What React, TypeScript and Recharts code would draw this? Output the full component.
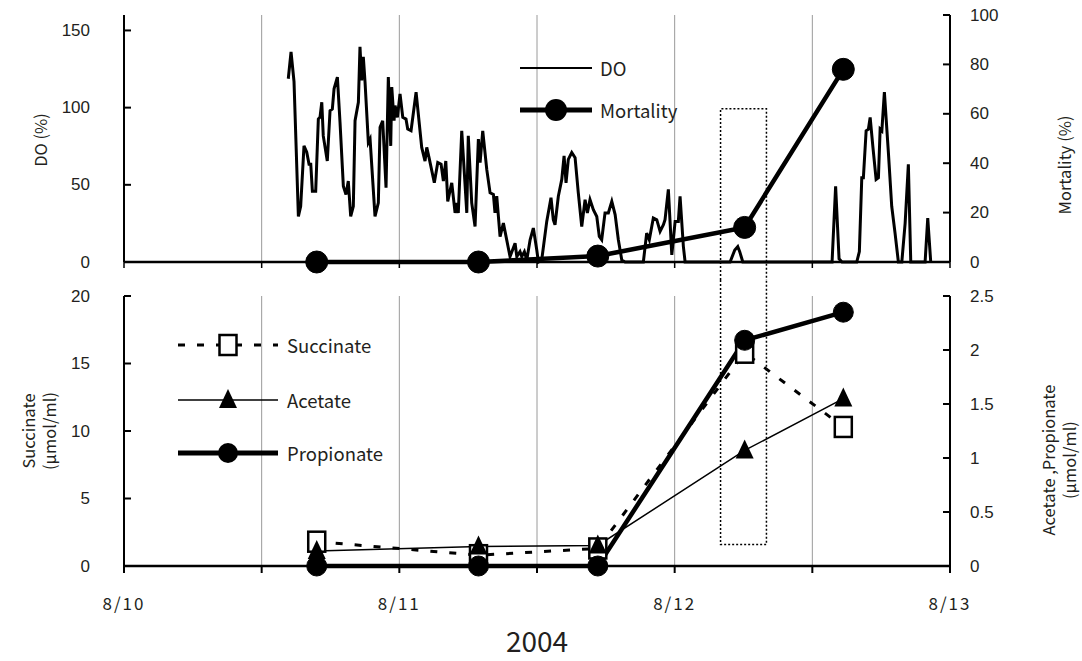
import { CartesianGrid, Label, Legend, Line, LineChart, ReferenceArea, XAxis, YAxis } from 'recharts';

// x values are hours counted from 8/10 0:00
const HOUR_TICKS = [0, 12, 24, 36, 48, 60, 72];
const DAY_LABELS: Record<number, string> = { 0: '8/10', 24: '8/11', 48: '8/12', 72: '8/13' };

const DO_TICKS = [0, 50, 100, 150];
const MORTALITY_TICKS = [0, 20, 40, 60, 80, 100];
const SUCCINATE_TICKS = [0, 5, 10, 15, 20];
const ACID_TICKS = [0, 0.5, 1, 1.5, 2, 2.5];

// [hour, DO %]
const DO_READINGS: [number, number][] = [
  [14.32, 118.7], [14.56, 136.1], [14.82, 116.8], [15.2, 29.5], [15.4, 36.1],
  [15.69, 75.2], [15.93, 71.1], [16.13, 63.3], [16.28, 63.3], [16.42, 45.9],
  [16.71, 45.9], [16.94, 92.6], [17.09, 93.9], [17.24, 103.5], [17.37, 81.7],
  [17.72, 65.4], [17.96, 98.0], [18.16, 99.1], [18.31, 112.2], [18.6, 119.8],
  [18.83, 90.5], [19.12, 49.1], [19.35, 43.7], [19.55, 52.4], [19.76, 29.5],
  [19.99, 36.1], [20.14, 91.5], [20.43, 103.5], [20.57, 139.4], [20.72, 117.6],
  [20.86, 132.9], [21.01, 116.6], [21.3, 77.4], [21.45, 79.6], [21.88, 29.5],
  [22.17, 38.3], [22.32, 87.2], [22.55, 91.5], [22.84, 48.1], [23.04, 119.8],
  [23.25, 75.2], [23.34, 113.3], [23.54, 91.5], [23.63, 101.3], [23.83, 93.7],
  [24.06, 108.9], [24.3, 93.7], [24.58, 92.6], [24.73, 86.1], [25.02, 85.0],
  [25.46, 110.0], [25.95, 74.2], [26.24, 65.4], [26.39, 74.2], [26.59, 67.6],
  [27.05, 51.3], [27.35, 64.4], [27.64, 63.3], [27.84, 52.4], [28.05, 65.4],
  [28.22, 39.3], [28.57, 51.3], [28.86, 31.8], [29.0, 38.3], [29.14, 31.8],
  [29.44, 85.0], [29.88, 31.8], [30.01, 81.7], [30.31, 38.3], [30.6, 23.0],
  [30.89, 79.6], [31.04, 64.4], [31.27, 85.0], [31.62, 60.0], [31.91, 44.8],
  [32.2, 43.7], [32.34, 31.8], [32.49, 42.6], [32.78, 16.5], [33.07, 25.2],
  [33.65, 3.5], [34.09, 12.2], [34.24, 3.5], [34.52, 6.7], [34.67, 3.5],
  [34.9, 6.7], [35.11, 1.3], [35.4, 14.4], [35.68, 22.0], [35.98, 7.8],
  [36.12, 0], [36.41, 1.3], [36.85, 26.3], [37.22, 41.6], [37.42, 27.4],
  [37.57, 24.1], [37.86, 42.6], [38.16, 53.5], [38.36, 68.7], [38.53, 51.3],
  [38.73, 66.5], [39.03, 70.9], [39.32, 67.6], [39.6, 44.8], [39.9, 23.0],
  [40.19, 40.4], [40.39, 31.8], [40.62, 40.4], [40.91, 33.9], [41.21, 29.5],
  [41.43, 16.5], [41.64, 14.4], [41.93, 31.8], [42.22, 31.8], [42.52, 39.3],
  [42.81, 30.7], [43.09, 14.4], [43.39, 1.3], [43.68, 0], [45.27, 0],
  [45.56, 18.7], [45.79, 14.4], [46.14, 28.5], [46.44, 27.4], [46.73, 19.8],
  [47.02, 24.1], [47.16, 27.4], [47.45, 47.0], [47.75, 4.6], [48.04, 26.3],
  [48.32, 26.3], [48.47, 42.6], [48.76, 10.0], [48.91, 0], [52.83, 0],
  [53.24, 7.8], [53.5, 10.0], [53.67, 6.7], [53.94, 0], [61.72, 0],
  [62.03, 49.1], [62.33, 2.0], [62.59, 0], [63.87, 0], [64.1, 6.7],
  [64.31, 54.6], [64.45, 54.6], [64.69, 85.0], [64.89, 86.1], [65.04, 93.7],
  [65.27, 75.2], [65.56, 53.5], [65.76, 54.6], [65.91, 86.1], [66.06, 85.0],
  [66.28, 110.0], [66.63, 70.9], [66.92, 36.1], [67.21, 18.7], [67.5, 0],
  [67.8, 0], [68.09, 25.2], [68.37, 63.3], [68.58, 0], [69.83, 0],
  [70.06, 28.5], [70.32, 0],
];

const SAMPLE_HOURS = [16.8, 30.9, 41.3, 54.1, 62.7];
const MORTALITY = [0, 0, 2.4, 14, 78];
const SUCCINATE = [1.8, 0.8, 1.3, 15.8, 10.3];
const ACETATE = [0.14, 0.18, 0.19, 1.07, 1.55];
const PROPIONATE = [0, 0, 0, 2.09, 2.35];

// dotted box around the 8/12 morning sample
const BOX_HOURS = [52, 56];
const BOX_MORTALITY_TOP = 62;
const BOX_ACID_BOTTOM = 0.2;

const doData = DO_READINGS.map(([h, v]) => ({ h, v }));
const sampleData = SAMPLE_HOURS.map((h, i) => ({
  h,
  mortality: MORTALITY[i],
  succinate: SUCCINATE[i],
  acetate: ACETATE[i],
  propionate: PROPIONATE[i],
}));

const NUM_FONT = '"Liberation Sans", Arial, sans-serif';
const JP_FONT = '"Noto Sans CJK JP", "Noto Sans", sans-serif';
const INK = '#231f20';

function LeftTick(props: any) {
  const { x, y, payload, gap } = props;
  const ax = x + gap;
  return (
    <g>
      <line x1={ax} x2={ax + 7} y1={y} y2={y} stroke="#000" strokeWidth={2} />
      <text x={x} y={y} textAnchor="end" dominantBaseline="central" fontSize={17} fontFamily={NUM_FONT} fill={INK}>
        {payload.value}
      </text>
    </g>
  );
}

function RightTick(props: any) {
  const { x, y, payload, gap } = props;
  const ax = x - gap;
  return (
    <g>
      <line x1={ax} x2={ax - 7} y1={y} y2={y} stroke="#000" strokeWidth={2} />
      <text x={x} y={y} textAnchor="start" dominantBaseline="central" fontSize={17} fontFamily={NUM_FONT} fill={INK}>
        {payload.value}
      </text>
    </g>
  );
}

function AxisTitle({ lines, cx, cy }: { lines: string[]; cx: number; cy: number }) {
  return (
    <text
      transform={`rotate(-90 ${cx} ${cy})`}
      x={cx}
      y={cy}
      textAnchor="middle"
      dominantBaseline="central"
      fontSize={16.5}
      fontFamily={JP_FONT}
      fill={INK}
    >
      {lines.map((l, i) => (
        <tspan key={l} x={cx} dy={i === 0 ? 0 : 21}>
          {l}
        </tspan>
      ))}
    </text>
  );
}

const squareDot = (p: any) => (
  <rect key={`sq-${p.index}`} x={p.cx - 8.5} y={p.cy - 10} width={17} height={20} fill="#fff" stroke="#000" strokeWidth={2.5} />
);

const triangleDot = (p: any) => (
  <path key={`tr-${p.index}`} d={`M${p.cx},${p.cy - 11} L${p.cx + 9},${p.cy + 8} L${p.cx - 9},${p.cy + 8} Z`} fill="#000" />
);

function TopLegend() {
  return (
    <svg width={220} height={90} style={{ overflow: 'visible' }}>
      <line x1={10} x2={82} y1={23} y2={23} stroke="#000" strokeWidth={2} />
      <text x={90} y={23} dominantBaseline="central" fontSize={18.5} fontFamily={JP_FONT} fill={INK}>DO</text>
      <line x1={10} x2={82} y1={65} y2={65} stroke="#000" strokeWidth={5} />
      <circle cx={46} cy={65} r={11} fill="#000" />
      <text x={90} y={65} dominantBaseline="central" fontSize={18.5} fontFamily={JP_FONT} fill={INK}>Mortality</text>
    </svg>
  );
}

function BottomLegend() {
  return (
    <svg width={240} height={150} style={{ overflow: 'visible' }}>
      <line x1={8} x2={108} y1={25} y2={25} stroke="#000" strokeWidth={3} strokeDasharray="7 12" />
      <rect x={49.5} y={15} width={17} height={20} fill="#fff" stroke="#000" strokeWidth={2.5} />
      <text x={117} y={25} dominantBaseline="central" fontSize={18.5} fontFamily={JP_FONT} fill={INK}>Succinate</text>
      <line x1={8} x2={108} y1={80} y2={80} stroke="#000" strokeWidth={1.5} />
      <path d="M58,69 L67,88 L49,88 Z" fill="#000" />
      <text x={117} y={80} dominantBaseline="central" fontSize={18.5} fontFamily={JP_FONT} fill={INK}>Acetate</text>
      <line x1={8} x2={108} y1={133} y2={133} stroke="#000" strokeWidth={5} />
      <circle cx={58} cy={133} r={10} fill="#000" />
      <text x={117} y={133} dominantBaseline="central" fontSize={18.5} fontFamily={JP_FONT} fill={INK}>Propionate</text>
    </svg>
  );
}

export default function App() {
  return (
    <div style={{ position: 'absolute', left: 0, top: 0, width: 1082, height: 661, background: '#fff' }}>
      <LineChart width={1082} height={280} margin={{ top: 15, right: 0, bottom: 0, left: 0 }}>
        <CartesianGrid horizontal={false} stroke="#9a9a9a" strokeWidth={1} />
        <XAxis
          dataKey="h"
          type="number"
          domain={[0, 72]}
          ticks={HOUR_TICKS}
          interval={0}
          height={18}
          tickSize={6}
          tickFormatter={() => ''}
          axisLine={{ stroke: '#000', strokeWidth: 2.5 }}
          tickLine={{ stroke: '#000', strokeWidth: 1.5 }}
        />
        <YAxis
          yAxisId="do"
          orientation="left"
          domain={[0, 160]}
          ticks={DO_TICKS}
          interval={0}
          width={124}
          tickSize={0}
          tickMargin={34}
          tickLine={false}
          axisLine={{ stroke: '#000', strokeWidth: 2 }}
          tick={(p: any) => <LeftTick {...p} gap={34} />}
        >
          <Label content={() => <AxisTitle lines={['DO (%)']} cx={40} cy={140} />} />
        </YAxis>
        <YAxis
          yAxisId="mort"
          orientation="right"
          domain={[0, 100]}
          ticks={MORTALITY_TICKS}
          interval={0}
          width={132}
          tickSize={0}
          tickMargin={20}
          tickLine={false}
          axisLine={{ stroke: '#000', strokeWidth: 2 }}
          tick={(p: any) => <RightTick {...p} gap={20} />}
        >
          <Label content={() => <AxisTitle lines={['Mortality (%)']} cx={1064} cy={165} />} />
        </YAxis>
        <ReferenceArea
          yAxisId="mort"
          x1={BOX_HOURS[0]}
          x2={BOX_HOURS[1]}
          y1={BOX_MORTALITY_TOP}
          y2={0}
          ifOverflow="visible"
          shape={(p: any) => (
            <path
              d={`M${p.x},${p.y + p.height + 18} V${p.y} H${p.x + p.width} V${p.y + p.height + 18}`}
              fill="none"
              stroke="#000"
              strokeWidth={1.5}
              strokeDasharray="2 2"
            />
          )}
        />
        <Line
          data={doData}
          yAxisId="do"
          dataKey="v"
          stroke="#000"
          strokeWidth={3}
          dot={false}
          type="linear"
          isAnimationActive={false}
        />
        <Line
          data={sampleData}
          yAxisId="mort"
          dataKey="mortality"
          stroke="#000"
          strokeWidth={4.5}
          dot={{ r: 11, fill: '#000', stroke: '#000', strokeWidth: 1 }}
          type="linear"
          isAnimationActive={false}
        />
        <Legend
          layout="vertical"
          align="center"
          verticalAlign="middle"
          wrapperStyle={{ left: 510, top: 45, width: 220, height: 90 }}
          content={() => <TopLegend />}
        />
      </LineChart>

      <LineChart width={1082} height={381} margin={{ top: 16, right: 0, bottom: 0, left: 0 }}>
        <CartesianGrid horizontal={false} stroke="#9a9a9a" strokeWidth={1} />
        <XAxis
          dataKey="h"
          type="number"
          domain={[0, 72]}
          ticks={HOUR_TICKS}
          interval={0}
          height={95}
          tickSize={7}
          tickMargin={25}
          tickFormatter={(v: number) => DAY_LABELS[v] ?? ''}
          tick={{ fontSize: 17, fontFamily: JP_FONT, fill: INK, letterSpacing: 2 }}
          axisLine={{ stroke: '#000', strokeWidth: 2.5 }}
          tickLine={{ stroke: '#000', strokeWidth: 2 }}
        >
          <Label value="2004" position="insideBottom" offset={9} fontSize={28} fontFamily={JP_FONT} fill={INK} />
        </XAxis>
        <YAxis
          yAxisId="succ"
          orientation="left"
          domain={[0, 20]}
          ticks={SUCCINATE_TICKS}
          interval={0}
          width={124}
          tickSize={0}
          tickMargin={34}
          tickLine={false}
          axisLine={{ stroke: '#000', strokeWidth: 2 }}
          tick={(p: any) => <LeftTick {...p} gap={34} />}
        >
          <Label content={() => <AxisTitle lines={['Succinate', '(μmol/ml)']} cx={28} cy={151} />} />
        </YAxis>
        <YAxis
          yAxisId="acid"
          orientation="right"
          domain={[0, 2.5]}
          ticks={ACID_TICKS}
          interval={0}
          width={132}
          tickSize={0}
          tickMargin={20}
          tickLine={false}
          axisLine={{ stroke: '#000', strokeWidth: 2 }}
          tick={(p: any) => <RightTick {...p} gap={20} />}
        >
          <Label
            content={() => <AxisTitle lines={['Acetate ,Propionate', '(μmol/ml)']} cx={1048} cy={180} />}
          />
        </YAxis>
        <ReferenceArea
          yAxisId="acid"
          x1={BOX_HOURS[0]}
          x2={BOX_HOURS[1]}
          y1={2.5}
          y2={BOX_ACID_BOTTOM}
          ifOverflow="visible"
          shape={(p: any) => (
            <path
              d={`M${p.x},${p.y - 16} V${p.y + p.height} H${p.x + p.width} V${p.y - 16}`}
              fill="none"
              stroke="#000"
              strokeWidth={1.5}
              strokeDasharray="2 2"
            />
          )}
        />
        <Line
          data={sampleData}
          yAxisId="succ"
          dataKey="succinate"
          stroke="#000"
          strokeWidth={3}
          strokeDasharray="7 12"
          dot={squareDot}
          type="linear"
          isAnimationActive={false}
        />
        <Line
          data={sampleData}
          yAxisId="acid"
          dataKey="acetate"
          stroke="#000"
          strokeWidth={1.5}
          dot={triangleDot}
          type="linear"
          isAnimationActive={false}
        />
        <Line
          data={sampleData}
          yAxisId="acid"
          dataKey="propionate"
          stroke="#000"
          strokeWidth={4.5}
          dot={{ r: 10, fill: '#000', stroke: '#000', strokeWidth: 1 }}
          type="linear"
          isAnimationActive={false}
        />
        <Legend
          layout="vertical"
          align="center"
          verticalAlign="middle"
          wrapperStyle={{ left: 170, top: 40, width: 240, height: 150 }}
          content={() => <BottomLegend />}
        />
      </LineChart>
    </div>
  );
}
